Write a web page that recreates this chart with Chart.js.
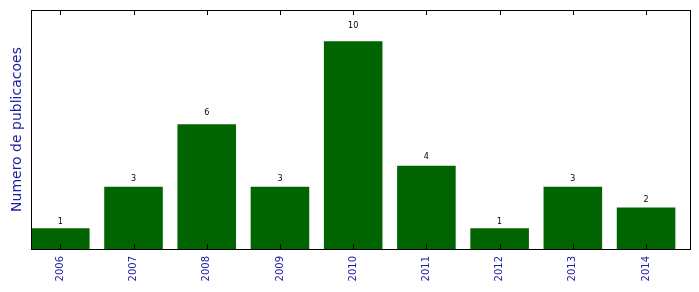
<!DOCTYPE html>
<html>
<head>
<meta charset="utf-8">
<script src="https://cdn.jsdelivr.net/npm/chart.js@4"></script>
<style>
    html, body { margin: 0; padding: 0; background: #fff; }
    #wrap { width: 699px; height: 292px; }
</style>
</head>
<body>
<div id="wrap"><canvas id="pubChart" width="699" height="292"></canvas></div>
<script>
const years = ['2006', '2007', '2008', '2009', '2010', '2011', '2012', '2013', '2014'];
const counts = [1, 3, 6, 3, 10, 4, 1, 3, 2];
const yMax = 11.5;

const barColor = '#006400';
const textBlue = '#1c1ca0';

// box around plot, inside tick marks, value labels and y title
const decorations = {
    id: 'decorations',
    afterDatasetsDraw(chart) {
        const { ctx, chartArea: a, scales } = chart;
        ctx.save();
        ctx.strokeStyle = '#000';
        ctx.lineWidth = 1;
        ctx.strokeRect(Math.round(a.left) + 0.5, Math.round(a.top) + 0.5,
            Math.round(a.right - a.left), Math.round(a.bottom - a.top));

        ctx.beginPath();
        years.forEach((y, i) => {
            const px = Math.round(scales.x.getPixelForValue(i + 0.4)) + 0.5;
            ctx.moveTo(px, a.bottom);
            ctx.lineTo(px, a.bottom - 5);
            ctx.moveTo(px, a.top);
            ctx.lineTo(px, a.top + 5);
        });
        ctx.stroke();

        // labels sit at 1.05 x the bar height
        ctx.fillStyle = '#000';
        ctx.font = '8px "DejaVu Sans"';
        ctx.textAlign = 'center';
        ctx.textBaseline = 'bottom';
        counts.forEach((v, i) => {
            const px = scales.x.getPixelForValue(i + 0.4);
            const py = scales.y.getPixelForValue(v * 1.05);
            ctx.fillText(String(v), px, py - 1);
        });

        ctx.fillStyle = textBlue;
        ctx.font = '14px "DejaVu Sans"';
        ctx.translate(17, (a.top + a.bottom) / 2);
        ctx.rotate(-Math.PI / 2);
        ctx.textBaseline = 'middle';
        ctx.fillText('Numero de publicacoes', 0, 0);
        ctx.restore();
    }
};

new Chart(document.getElementById('pubChart'), {
    type: 'bar',
    data: {
        datasets: [{
            data: counts.map((v, i) => ({ x: i + 0.4, y: v })),
            backgroundColor: barColor,
            borderWidth: 0,
            barPercentage: 0.8,
            categoryPercentage: 1
        }]
    },
    options: {
        responsive: false,
        animation: false,
        layout: { padding: { left: 31, right: 9, top: 10, bottom: 0 } },
        plugins: { legend: { display: false }, tooltip: { enabled: false } },
        scales: {
            x: {
                type: 'linear',
                min: 0,
                max: 9,
                offset: false,
                grid: { display: false },
                border: { display: false },
                afterBuildTicks: (scale) => {
                    scale.ticks = years.map((y, i) => ({ value: i + 0.4 }));
                },
                afterFit: (scale) => {
                    scale.height = 43;
                },
                ticks: {
                    color: textBlue,
                    font: { family: 'DejaVu Sans', size: 10 },
                    minRotation: 90,
                    maxRotation: 90,
                    padding: -1,
                    autoSkip: false,
                    callback: (value, index) => years[index]
                }
            },
            y: {
                display: false,
                min: 0,
                max: yMax,
                grid: { display: false }
            }
        }
    },
    plugins: [decorations]
});
</script>
</body>
</html>
